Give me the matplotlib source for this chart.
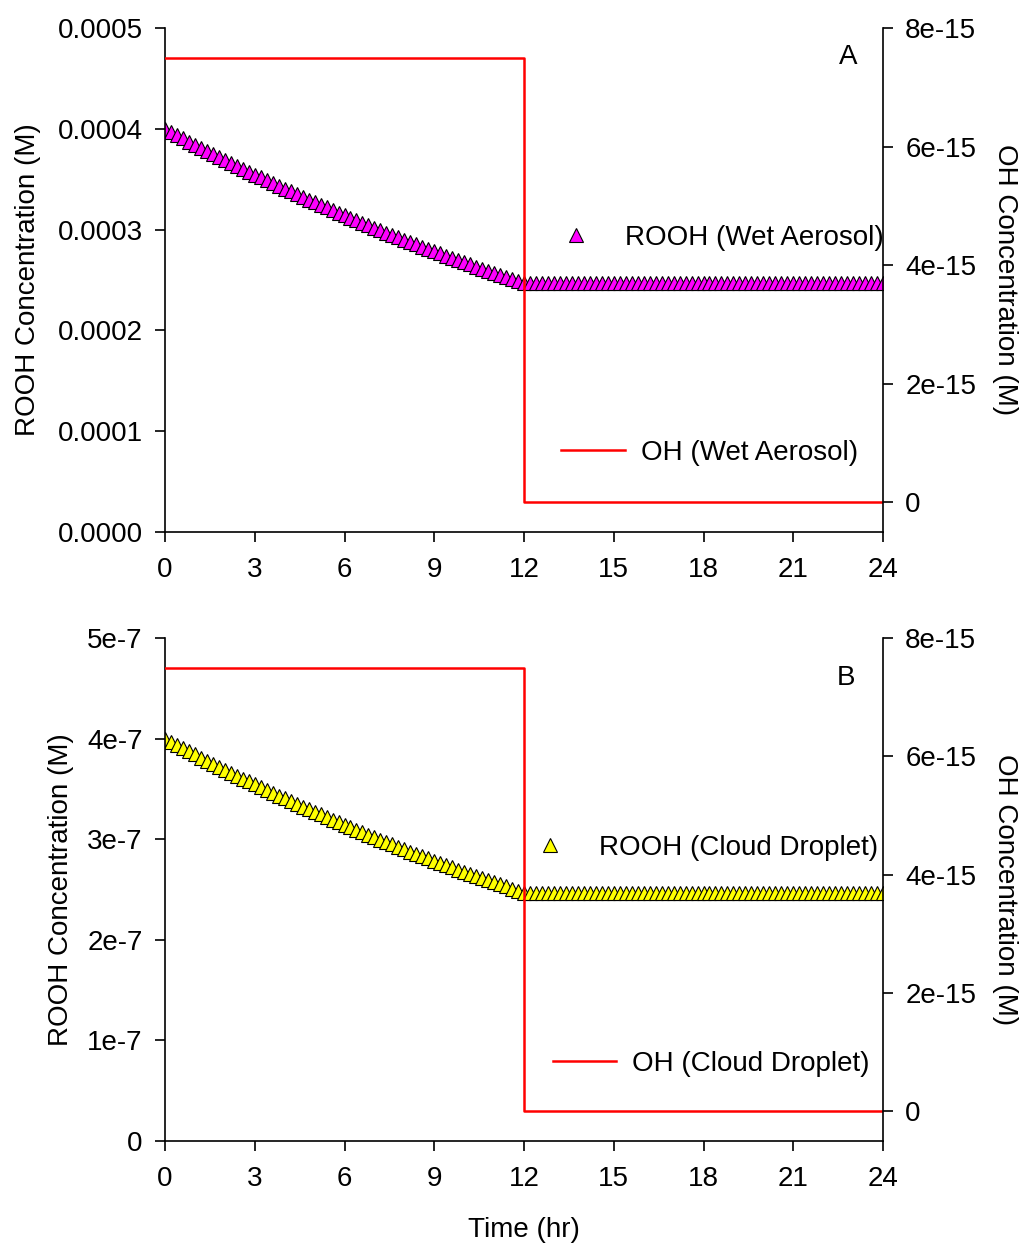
import numpy as np
import matplotlib
matplotlib.use("Agg")
import matplotlib.pyplot as plt
from matplotlib.lines import Line2D

plt.rcParams['font.family'] = ['Liberation Sans', 'DejaVu Sans']

# ---- data ----
time_hr = [round(0.2 * i, 1) for i in range(121)]
# ROOH (units of 1e-4 M for aerosol; same shape, 1e-7 M for cloud)
rooh_rel = [4.0000, 3.9680, 3.9362, 3.9047, 3.8735, 3.8425, 3.8117, 3.7812, 3.7509, 3.7209,
            3.6911, 3.6616, 3.6323, 3.6032, 3.5744, 3.5458, 3.5174, 3.4892, 3.4613, 3.4336,
            3.4061, 3.3788, 3.3518, 3.3250, 3.2984, 3.2720, 3.2458, 3.2198, 3.1940, 3.1684,
            3.1431, 3.1179, 3.0930, 3.0682, 3.0437, 3.0193, 2.9951, 2.9711, 2.9474, 2.9238,
            2.9004, 2.8772, 2.8541, 2.8313, 2.8086, 2.7861, 2.7638, 2.7417, 2.7198, 2.6980,
            2.6764, 2.6550, 2.6337, 2.6127, 2.5917, 2.5710, 2.5504, 2.5300, 2.5097, 2.4897,
            2.4697,
            2.47, 2.47, 2.47, 2.47, 2.47, 2.47, 2.47, 2.47, 2.47, 2.47,
            2.47, 2.47, 2.47, 2.47, 2.47, 2.47, 2.47, 2.47, 2.47, 2.47,
            2.47, 2.47, 2.47, 2.47, 2.47, 2.47, 2.47, 2.47, 2.47, 2.47,
            2.47, 2.47, 2.47, 2.47, 2.47, 2.47, 2.47, 2.47, 2.47, 2.47,
            2.47, 2.47, 2.47, 2.47, 2.47, 2.47, 2.47, 2.47, 2.47, 2.47,
            2.47, 2.47, 2.47, 2.47, 2.47, 2.47, 2.47, 2.47, 2.47, 2.47]
rooh_aerosol = [v * 1e-4 for v in rooh_rel]
rooh_cloud = [v * 1e-7 for v in rooh_rel]

oh_time = [0, 12, 12, 24]
oh_conc = [7.5e-15, 7.5e-15, 0.0, 0.0]

x_ticks = [0, 3, 6, 9, 12, 15, 18, 21, 24]
yA_ticks = [0.0, 0.0001, 0.0002, 0.0003, 0.0004, 0.0005]
yA_labels = ["0.0000", "0.0001", "0.0002", "0.0003", "0.0004", "0.0005"]
yB_ticks = [0.0, 1e-7, 2e-7, 3e-7, 4e-7, 5e-7]
yB_labels = ["0", "1e-7", "2e-7", "3e-7", "4e-7", "5e-7"]
yR_ticks = [0.0, 2e-15, 4e-15, 6e-15, 8e-15]
yR_labels = ["0", "2e-15", "4e-15", "6e-15", "8e-15"]

W, H = 1023, 1243
fig = plt.figure(figsize=(W / 100, H / 100), dpi=100)

FS = 20
LEFT, RIGHT = 165, 883

def panel(top, bottom, rooh, color, yt, ytl, ylim, letter, lab, mleg_x, mleg_y, lleg_x, lleg_y,
          xlabel, ylab_pad):
    ax = fig.add_axes([LEFT / W, 1 - bottom / H, (RIGHT - LEFT) / W, (bottom - top) / H])
    ax.plot(time_hr, rooh, linestyle='none', marker='^', markersize=10,
            markerfacecolor=color, markeredgecolor='black', markeredgewidth=0.8)
    ax.set_xlim(0, 24)
    ax.set_ylim(*ylim)
    ax.set_xticks(x_ticks)
    ax.set_xticklabels([str(t) for t in x_ticks])
    ax.set_yticks(yt)
    ax.set_yticklabels(ytl)
    ax.spines['top'].set_visible(False)
    ax.spines['right'].set_visible(False)
    ax.tick_params(direction='out', length=7, width=1.2, labelsize=FS)
    ax.tick_params(axis='y', pad=9)
    ax.tick_params(axis='x', pad=11)
    ax.set_ylabel("ROOH Concentration (M)", fontsize=FS, labelpad=ylab_pad)
    if xlabel:
        ax.set_xlabel("Time (hr)", fontsize=FS, labelpad=18)

    ax2 = ax.twinx()
    ax2.plot(oh_time, oh_conc, color='#ff0000', linewidth=1.8)
    ax2.set_ylim(-0.506e-15, 8e-15)
    ax2.set_yticks(yR_ticks)
    ax2.set_yticklabels(yR_labels)
    ax2.spines['top'].set_visible(False)
    ax2.spines['left'].set_visible(False)
    ax2.spines['bottom'].set_visible(False)
    ax2.tick_params(direction='out', length=7, width=1.2, labelsize=FS, pad=9)
    ax2.set_ylabel("OH Concentration (M)", fontsize=FS, rotation=270, labelpad=30)
    for sp in list(ax.spines.values()) + list(ax2.spines.values()):
        sp.set_linewidth(1.2)

    ax2.text((letter[1] - LEFT) / (RIGHT - LEFT), 1 - (letter[2] - top) / (bottom - top),
             letter[0], transform=ax2.transAxes, fontsize=FS, ha='center', va='center')

    def ax_xy(px, py):
        return ((px - LEFT) / (RIGHT - LEFT), 1 - (py - top) / (bottom - top))

    h1 = Line2D([], [], linestyle='none', marker='^', markersize=10,
                markerfacecolor=color, markeredgecolor='black', markeredgewidth=0.8)
    leg1 = ax2.legend([h1], [lab[0]], loc='center right', bbox_to_anchor=ax_xy(mleg_x, mleg_y),
                      frameon=False, fontsize=FS, handlelength=2.0, handletextpad=0.76,
                      borderaxespad=0, borderpad=0)
    ax2.add_artist(leg1)
    h2 = Line2D([], [], color='#ff0000', linewidth=1.8)
    ax2.legend([h2], [lab[1]], loc='center right', bbox_to_anchor=ax_xy(lleg_x, lleg_y),
               frameon=False, fontsize=FS, handlelength=2.3, handletextpad=0.58,
               borderaxespad=0, borderpad=0)
    return ax, ax2

panel(28, 532, rooh_aerosol, '#ff00ff', yA_ticks, yA_labels, (0, 0.0005),
      ('A', 848, 57), ("ROOH (Wet Aerosol)", "OH (Wet Aerosol)"),
      884, 238, 858, 453, False, 12)

panel(638, 1141, rooh_cloud, '#ffff00', yB_ticks, yB_labels, (0, 5e-7),
      ('B', 846, 678), ("ROOH (Cloud Droplet)", "OH (Cloud Droplet)"),
      878, 848, 870, 1064, True, 9.5)

fig.savefig("out.png", dpi=100)
